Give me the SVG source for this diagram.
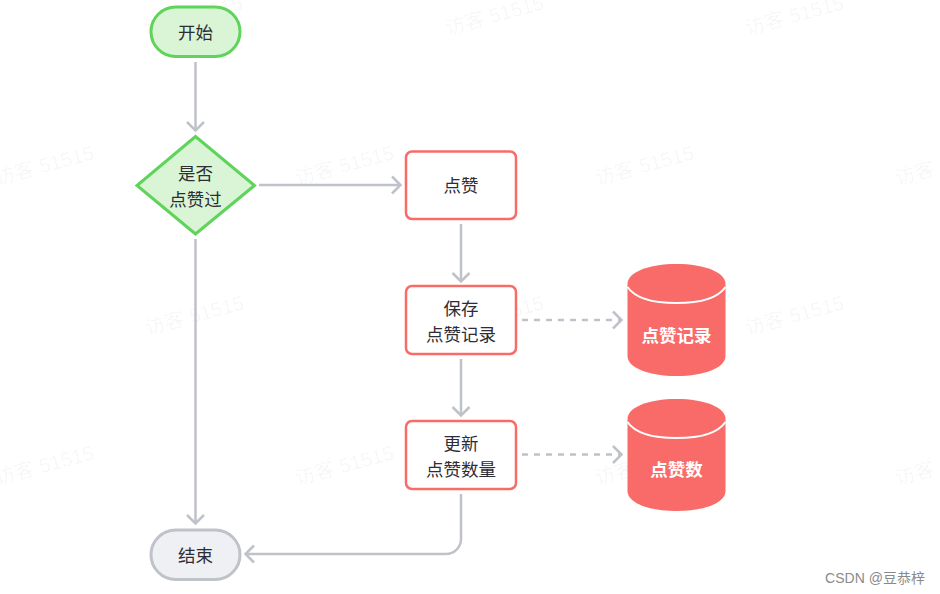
<svg xmlns="http://www.w3.org/2000/svg" width="940" height="594" viewBox="0 0 940 594">
<style>
text{font-family:"Liberation Sans","Noto Sans CJK SC",sans-serif;text-anchor:middle}
.wm{font-size:20px;fill:#000;fill-opacity:.045}
.t{font-size:17.500px;fill:#2d2d33;font-family:"Noto Sans CJK SC",sans-serif}
.w{font-size:17.500px;fill:#fff;font-weight:700;font-family:"Noto Sans CJK SC",sans-serif}
.g{fill:#d9f5d6;stroke:#5fd35a;stroke-width:3}
.r{fill:#fff;stroke:#f96b68;stroke-width:2.500}
.c{fill:none;stroke:#bfc2c9;stroke-width:2.500}
.d{stroke-dasharray:6 6}
.h{fill:none;stroke:#bfc2c9;stroke-width:2.500}
.db{fill:#f96b68}
</style>
<rect width="940" height="594" fill="#fff"/>
<g id="watermarks">
<text class="wm" transform="translate(195 22) rotate(-15)">访客 51515</text>
<text class="wm" transform="translate(496 22) rotate(-15)">访客 51515</text>
<text class="wm" transform="translate(796 22) rotate(-15)">访客 51515</text>
<text class="wm" transform="translate(46 172) rotate(-15)">访客 51515</text>
<text class="wm" transform="translate(346 172) rotate(-15)">访客 51515</text>
<text class="wm" transform="translate(646 172) rotate(-15)">访客 51515</text>
<text class="wm" transform="translate(946 172) rotate(-15)">访客 51515</text>
<text class="wm" transform="translate(196 322) rotate(-15)">访客 51515</text>
<text class="wm" transform="translate(496 322) rotate(-15)">访客 51515</text>
<text class="wm" transform="translate(796 322) rotate(-15)">访客 51515</text>
<text class="wm" transform="translate(46 472) rotate(-15)">访客 51515</text>
<text class="wm" transform="translate(346 472) rotate(-15)">访客 51515</text>
<text class="wm" transform="translate(646 472) rotate(-15)">访客 51515</text>
<text class="wm" transform="translate(946 472) rotate(-15)">访客 51515</text>
</g>
<g id="connectors">
<path class="c" d="M195.500 62V130"/><path class="h" d="M187 122l8.500 8.500 8.500-8.500"/>
<path class="c" d="M259 185H400"/><path class="h" d="M392 176.500l8.500 8.500-8.500 8.500"/>
<path class="c" d="M195.500 239V523"/><path class="h" d="M187 515l8.500 8.500 8.500-8.500"/>
<path class="c" d="M461 224V281"/><path class="h" d="M452.500 273l8.500 8.500 8.500-8.500"/>
<path class="c" d="M461 359V415"/><path class="h" d="M452.500 407l8.500 8.500 8.500-8.500"/>
<path class="c d" d="M522 320H621"/><path class="h" d="M613 311.500l8.500 8.500-8.500 8.500"/>
<path class="c d" d="M522 454.500H621"/><path class="h" d="M613 446l8.500 8.500-8.500 8.500"/>
<path class="c" d="M461 494V539a15 15 0 0 1-15 15H246"/><path class="h" d="M254 545.500l-8.500 8.500 8.500 8.500"/>
</g>
<g id="start"><rect class="g" x="151" y="7" width="89" height="49.500" rx="24.700"/><text class="t" x="195.500" y="39">开始</text></g>
<g id="decision"><polygon class="g" points="195.500,136.500 254.500,185.500 195.500,234 137,185.500"/><text class="t" x="195.500" y="180">是否</text><text class="t" x="195.500" y="206">点赞过</text></g>
<g id="like"><rect class="r" x="406" y="151.500" width="110" height="67.500" rx="6"/><text class="t" x="461" y="192">点赞</text></g>
<g id="save"><rect class="r" x="406" y="286" width="110" height="68" rx="6"/><text class="t" x="461" y="315">保存</text><text class="t" x="461" y="341">点赞记录</text></g>
<g id="update"><rect class="r" x="406" y="421" width="110" height="68" rx="6"/><text class="t" x="461" y="450">更新</text><text class="t" x="461" y="476">点赞数量</text></g>
<g id="end"><rect x="151" y="530" width="89" height="49.500" rx="24.700" fill="#eff0f3" stroke="#bfc2c9" stroke-width="3"/><text class="t" x="195.500" y="562">结束</text></g>
<g id="db-records"><path class="db" d="M627.500 284C627.500 272 649 264 676.500 264S725.500 272 725.500 284V356C725.500 368 704 376 676.500 376S627.500 368 627.500 356Z"/><path d="M627.500 287C635 298 654 303 676.500 303S718 298 725.500 287" fill="none" stroke="#fff" stroke-width="2"/><text class="w" x="676.500" y="341.500">点赞记录</text></g>
<g id="db-count"><path class="db" d="M627.500 419C627.500 407 649 399 676.500 399S725.500 407 725.500 419V491C725.500 503 704 511 676.500 511S627.500 503 627.500 491Z"/><path d="M627.500 422C635 433 654 438 676.500 438S718 433 725.500 422" fill="none" stroke="#fff" stroke-width="2"/><text class="w" x="676.500" y="475.500">点赞数</text></g>
<text x="875" y="583" font-size="14" fill="#8a8a8a">CSDN @豆恭梓</text>
</svg>
